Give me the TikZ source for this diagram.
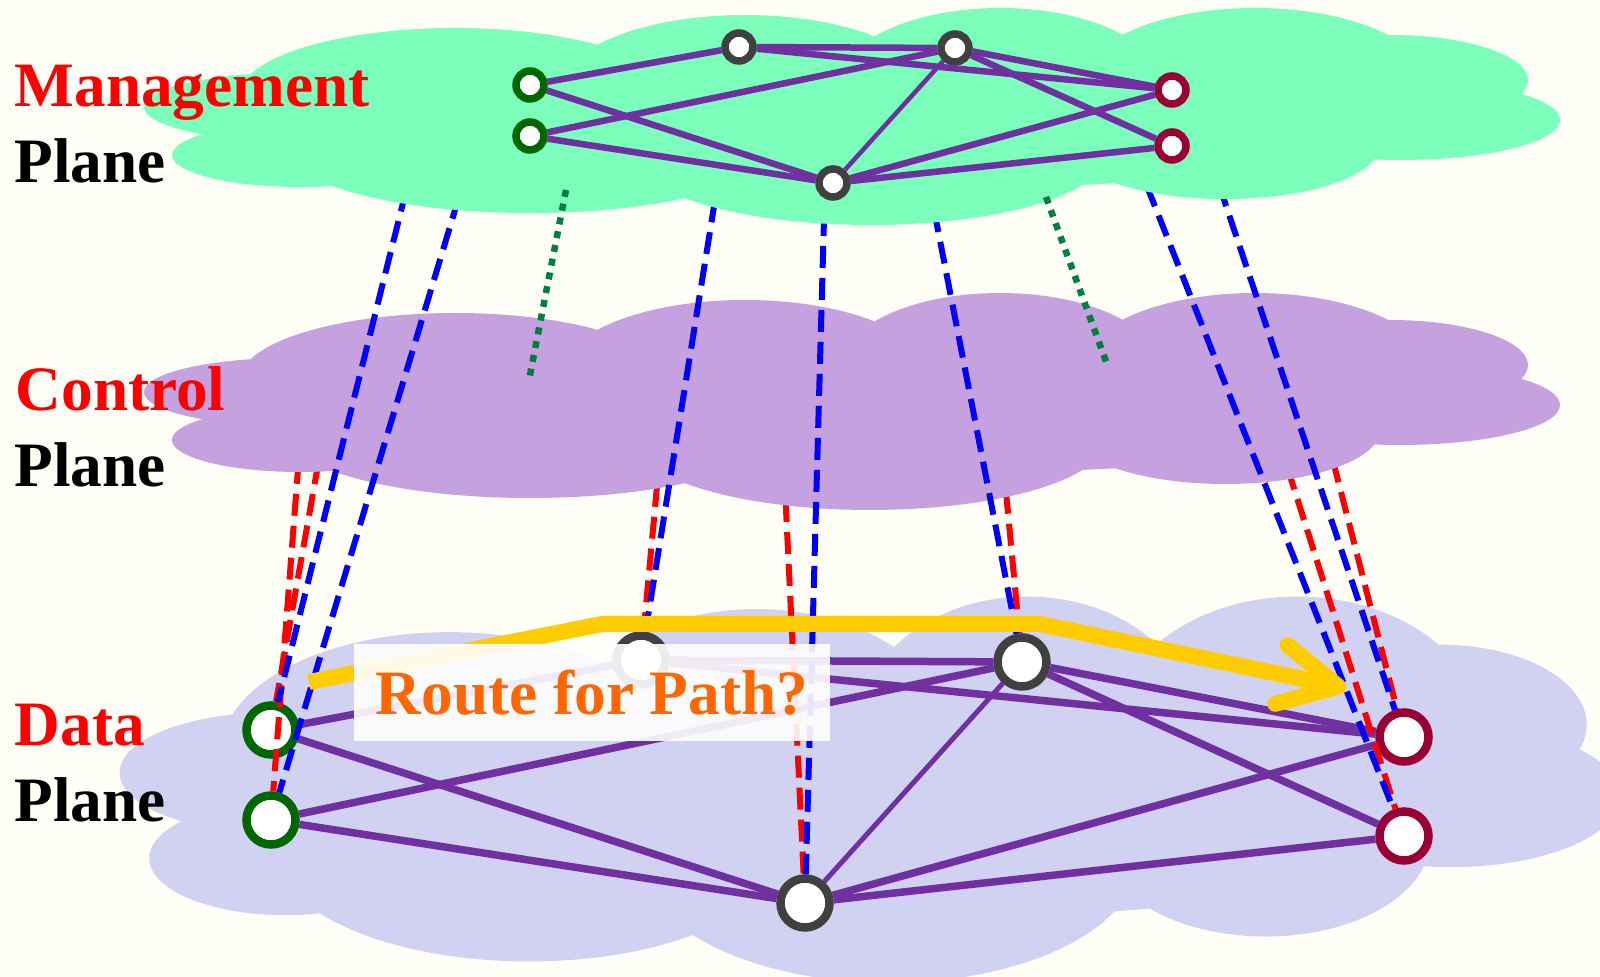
\documentclass[tikz,border=0pt]{standalone}
\usepackage{fontspec}
\setmainfont{Liberation Serif}
\usetikzlibrary{arrows.meta}

\definecolor{bgcream}{RGB}{255,255,247}
\definecolor{mgmtgreen}{RGB}{124,255,186}
\definecolor{ctrlpurple}{RGB}{197,161,224}
\definecolor{datalav}{RGB}{209,209,242}
\definecolor{linkpurple}{RGB}{112,48,160}
\definecolor{ringgray}{RGB}{64,64,64}
\definecolor{ringgreen}{RGB}{0,102,0}
\definecolor{ringred}{RGB}{153,0,51}
\definecolor{dotgreen}{RGB}{0,128,64}
\definecolor{pathyellow}{RGB}{255,204,0}
\definecolor{routeorange}{RGB}{255,102,0}

% one cloud outline, used for every plane
\newcommand{\planecloud}[1]{%
  \fill[#1] (4.55,-3.80) ellipse [x radius=2.15, y radius=0.67]
    (7.45,-3.75) ellipse [x radius=1.85, y radius=0.75]
    (10.00,-3.68) ellipse [x radius=1.60, y radius=0.75]
    (12.55,-3.70) ellipse [x radius=1.75, y radius=0.77]
    (13.90,-3.65) ellipse [x radius=1.38, y radius=0.45]
    (14.00,-4.05) ellipse [x radius=1.60, y radius=0.40]
    (12.25,-4.30) ellipse [x radius=1.55, y radius=0.54]
    (8.70,-4.40) ellipse [x radius=2.35, y radius=0.70]
    (5.30,-4.35) ellipse [x radius=2.40, y radius=0.63]
    (3.00,-4.40) ellipse [x radius=1.28, y radius=0.32]
    (2.90,-3.92) ellipse [x radius=1.46, y radius=0.34]
    (8.50,-4.00) ellipse [x radius=6.40, y radius=0.75];}

\tikzset{
  mnode/.style={circle, draw=#1, fill=white, line width=0.075cm,
    minimum size=0.28cm, inner sep=0pt},
  dnode/.style={circle, draw=#1, fill=white, line width=0.085cm,
    minimum size=0.49cm, inner sep=0pt},
  mlink/.style={linkpurple, line width=0.065cm},
  dlink/.style={linkpurple, line width=0.075cm},
  ctrlline/.style={blue, line width=0.06cm, dash pattern=on 0.22cm off 0.1cm},
  fwdline/.style={red, line width=0.06cm, dash pattern=on 0.22cm off 0.1cm},
  mgmtdots/.style={dotgreen, line width=0.065cm, dash pattern=on 0.07cm off 0.07cm},
  planelabel/.style={anchor=base west, inner sep=0pt,
    font=\fontsize{18}{21.6}\selectfont\bfseries},
  routebox/.style={fill=white, fill opacity=0.9, text opacity=1,
    text=routeorange, inner sep=0pt, minimum width=4.76cm,
    minimum height=0.97cm, font=\fontsize{18}{21.6}\selectfont\bfseries}
}

\begin{document}
\begin{tikzpicture}
\useasboundingbox (0,0) rectangle (16,-9.77);
\fill[bgcream] (0,0) rectangle (16,-9.77);

\begin{scope}[shift={(-0.33,-0.75)}, xscale=1.06, yscale=1.78]
\planecloud{datalav}
\end{scope}

\node[dnode=ringgreen] (d1) at (2.71,-7.30) {};
\node[dnode=ringgreen] (d2) at (2.71,-8.20) {};
\node[dnode=ringgray] (d3) at (6.41,-6.60) {};
\node[dnode=ringgray] (d4) at (10.22,-6.62) {};
\node[dnode=ringgray] (d5) at (8.05,-9.03) {};
\node[dnode=ringred] (d6) at (14.04,-7.37) {};
\node[dnode=ringred] (d7) at (14.04,-8.36) {};

\draw[dlink] (d1)--(d3);
\draw[dlink] (d3)--(d4);
\draw[dlink] (d3)--(d6);
\draw[dlink] (d2)--(d4);
\draw[dlink] (d4)--(d6);
\draw[dlink] (d4)--(d7);
\draw[dlink, line width=0.05cm] (d4)--(d5);
\draw[dlink] (d1)--(d5);
\draw[dlink] (d2)--(d5);
\draw[dlink] (d5)--(d6);
\draw[dlink] (d5)--(d7);

\coordinate (c1) at (3.01,-4.30);
\coordinate (c2) at (3.24,-4.31);
\coordinate (c3) at (6.60,-4.53);
\coordinate (c4) at (7.84,-4.68);
\coordinate (c5) at (10.03,-4.60);
\coordinate (c6) at (12.78,-4.38);
\coordinate (c7) at (13.25,-4.30);

\draw[fwdline] (c1)--(d2);
\draw[fwdline] (c2)--(d1);
\draw[fwdline] (c3)--(d3);
\draw[fwdline] (c4)--(d5);
\draw[fwdline] (c5)--(d4);
\draw[fwdline] (c6)--(d7);
\draw[fwdline] (c7)--(d6);

\planecloud{ctrlpurple}

\coordinate (b1) at (4.14,-1.59);
\coordinate (b2) at (4.68,-1.67);
\coordinate (b3) at (7.20,-1.69);
\coordinate (b4) at (8.25,-1.82);
\coordinate (b5) at (9.28,-1.79);
\coordinate (b6) at (11.35,-1.56);
\coordinate (b7) at (12.09,-1.55);

\draw[ctrlline] (b1)--(d1);
\draw[ctrlline] (b2)--(d2);
\draw[ctrlline] (b3)--(d3);
\draw[ctrlline] (b4)--(d5);
\draw[ctrlline] (b5)--(d4);
\draw[ctrlline] (b6)--(d7);
\draw[ctrlline] (b7)--(d6);

\begin{scope}[shift={(0,2.85)}]
\planecloud{mgmtgreen}
\end{scope}

\node[mnode=ringgreen] (m1) at (5.30,-0.85) {};
\node[mnode=ringgreen] (m2) at (5.30,-1.36) {};
\node[mnode=ringgray] (m3) at (7.39,-0.47) {};
\node[mnode=ringgray] (m4) at (9.55,-0.48) {};
\node[mnode=ringgray] (m5) at (8.33,-1.83) {};
\node[mnode=ringred] (m6) at (11.72,-0.90) {};
\node[mnode=ringred] (m7) at (11.72,-1.46) {};

\draw[mlink] (m1)--(m3);
\draw[mlink] (m3)--(m4);
\draw[mlink] (m3)--(m6);
\draw[mlink] (m2)--(m4);
\draw[mlink] (m4)--(m6);
\draw[mlink] (m4)--(m7);
\draw[mlink, line width=0.045cm] (m4)--(m5);
\draw[mlink] (m1)--(m5);
\draw[mlink] (m2)--(m5);
\draw[mlink] (m5)--(m6);
\draw[mlink] (m5)--(m7);

\coordinate (g1s) at (5.66,-1.90);
\coordinate (g1e) at (5.29,-3.80);
\coordinate (g2s) at (10.46,-1.97);
\coordinate (g2e) at (11.08,-3.67);
\draw[mgmtdots] (g1s)--(g1e);
\draw[mgmtdots] (g2s)--(g2e);

\coordinate (y0) at (3.09,-6.82);
\coordinate (y1) at (6.02,-6.24);
\coordinate (y2) at (10.40,-6.24);
\coordinate (y3) at (13.46,-6.88);
\draw[pathyellow, line width=0.16cm,
  -{Straight Barb[length=5.8mm, width=6mm, round]}]
  (y0)--(y1)--(y2)--(y3);

\node[planelabel, text=red] (mgmt) at (0.14,-1.07) {Management};
\node[planelabel] (mgmtpl) at (0.14,-1.83) {Plane};
\node[planelabel, text=red] (ctrl) at (0.15,-4.11) {Control};
\node[planelabel] (ctrlpl) at (0.14,-4.87) {Plane};
\node[planelabel, text=red] (data) at (0.14,-7.46) {Data};
\node[planelabel] (datapl) at (0.14,-8.22) {Plane};

\node[routebox] (route) at (5.92,-6.93) {Route for Path?};
\end{tikzpicture}
\end{document}
